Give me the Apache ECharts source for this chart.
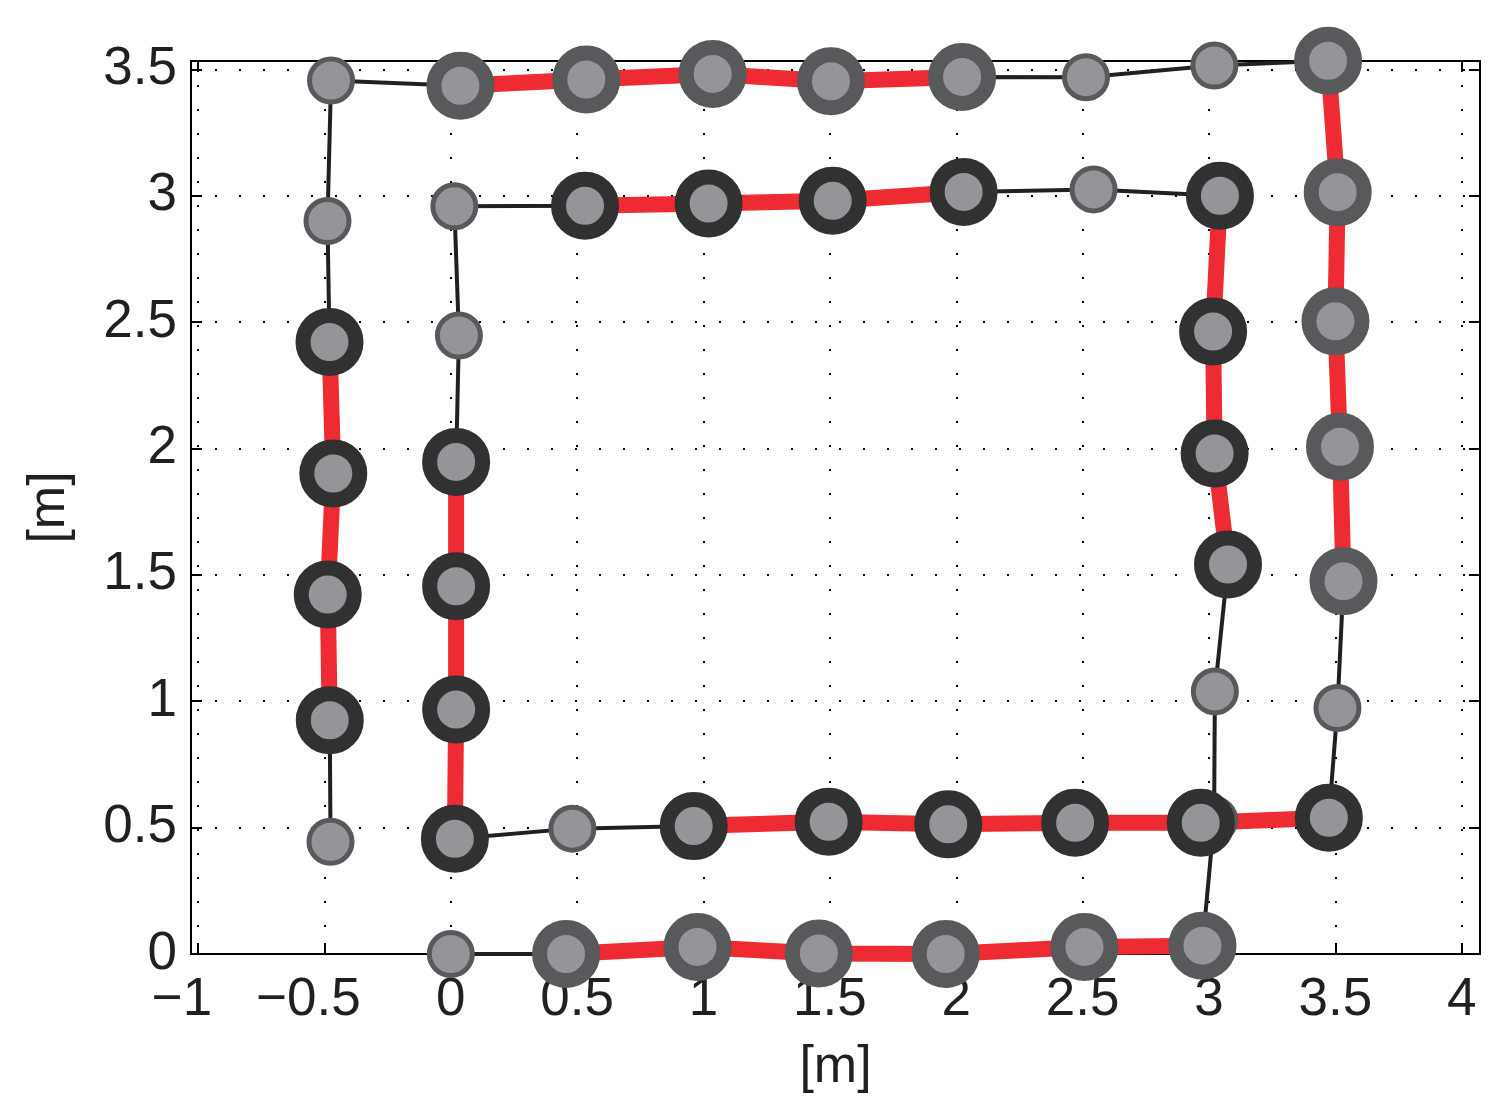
<!DOCTYPE html>
<html>
<head>
<meta charset="utf-8">
<script src="https://cdn.jsdelivr.net/npm/echarts@6/dist/echarts.min.js"></script>
<style>
html,body{margin:0;padding:0;background:#fff;}
#chart{width:1507px;height:1120px;}
</style>
</head>
<body>
<div id="chart"></div>
<script>
// ---- data ----
// trajectory points in visiting order [x, y] (m)
const pathPoints = [
  [0.000, 0.000], [0.456, 0.000], [0.976, 0.028], [1.456, 0.002], [1.958, 0.000], [2.507, 0.028], [2.974, 0.033],
  [3.020, 0.530], [3.023, 1.039],
  [3.075, 1.541], [3.022, 1.980], [3.016, 2.463], [3.043, 3.000],
  [2.543, 3.025],
  [2.029, 3.015], [1.511, 2.980], [1.020, 2.969], [0.531, 2.960],
  [0.014, 2.958], [0.032, 2.447],
  [0.021, 1.947], [0.021, 1.455], [0.021, 0.967], [0.016, 0.456],
  [0.481, 0.496],
  [0.961, 0.506], [1.495, 0.523], [1.968, 0.513], [2.470, 0.519], [2.967, 0.519], [3.474, 0.539],
  [3.508, 0.973],
  [3.532, 1.475], [3.518, 2.007], [3.500, 2.503], [3.509, 3.014], [3.471, 3.534],
  [3.021, 3.515], [2.513, 3.469],
  [2.023, 3.470], [1.504, 3.453], [1.036, 3.482], [0.536, 3.460], [0.038, 3.435],
  [-0.474, 3.456], [-0.488, 2.900],
  [-0.480, 2.421], [-0.465, 1.901], [-0.487, 1.422], [-0.479, 0.925],
  [-0.476, 0.444]
];
// marker kind per point: s = small, g = large grey ring, d = large dark ring
const pointKinds = [
  's','g','g','g','g','g','g',
  's','s',
  'd','d','d','d',
  's',
  'd','d','d','d',
  's','s',
  'd','d','d','d',
  's',
  'd','d','d','d','d','d',
  's',
  'g','g','g','g','g',
  's','s',
  'g','g','g','g','g',
  's','s',
  'd','d','d','d',
  's'
];
// straight segments highlighted in red: [first index, last index] into pathPoints
const redSegments = [[1,6],[9,12],[14,17],[20,23],[25,30],[32,36],[39,43],[46,49]];
const xTicks = [-1, -0.5, 0, 0.5, 1, 1.5, 2, 2.5, 3, 3.5, 4];
const yTicks = [0, 0.5, 1, 1.5, 2, 2.5, 3, 3.5];
const xRange = [-1.028, 4.072];
const yRange = [0, 3.533];

// ---- chart ----
const FONT = '"Liberation Sans", Arial, Helvetica, sans-serif';
const INK = '#231f20';
const LIGHT = '#939598';
const GREY = '#58595b';
const DARK = '#323132';
const RED = '#ee2a33';
const FS = 53;

const fmtY = v => String(v);
const fmtX = v => v < 0 ? '{neg|' + String(v).replace('-', '\u2212') + '}' : String(v);

function mainAxis(pos, ticks, range, name, nameGap, labelMargin, fmt) {
  return {
    type: 'value', position: pos, min: range[0], max: range[1],
    name: name, nameLocation: 'middle', nameGap: nameGap,
    nameTextStyle: { fontSize: 52, fontFamily: FONT, color: INK },
    axisLine: { show: true, onZero: false, lineStyle: { color: '#000', width: 2 } },
    axisTick: { show: true, inside: true, length: 11, customValues: ticks, lineStyle: { color: '#000', width: 2 } },
    axisLabel: {
      show: true, customValues: ticks, formatter: fmt, fontSize: FS, fontFamily: FONT, color: INK, margin: labelMargin,
      rich: { neg: { fontSize: FS, fontFamily: FONT, color: INK, padding: [0, 32, 0, 0] } }
    },
    splitLine: { show: true, lineStyle: { color: '#000', width: 2, type: [2, 22] } }
  };
}
function frameAxis(pos, ticks, range) {
  return {
    type: 'value', position: pos, min: range[0], max: range[1],
    axisLine: { show: true, onZero: false, lineStyle: { color: '#000', width: 2 } },
    axisTick: { show: true, inside: true, length: 11, customValues: ticks, lineStyle: { color: '#000', width: 2 } },
    axisLabel: { show: false, customValues: ticks },
    splitLine: { show: false }
  };
}

const series = [];
series.push({
  type: 'line', xAxisIndex: 0, yAxisIndex: 0, data: pathPoints, symbol: 'none', clip: false, silent: true,
  lineStyle: { color: INK, width: 4 }, z: 2
});
redSegments.forEach(seg => {
  series.push({
    type: 'line', xAxisIndex: 0, yAxisIndex: 0, data: pathPoints.slice(seg[0], seg[1] + 1),
    symbol: 'none', clip: false, silent: true, lineStyle: { color: RED, width: 16 }, z: 3
  });
});
const kindStyle = {
  s: { size: 43, border: 5, ring: GREY },
  g: { size: 53, border: 15, ring: GREY },
  d: { size: 53, border: 15, ring: DARK }
};
['s', 'g', 'd'].forEach(k => {
  const st = kindStyle[k];
  series.push({
    type: 'scatter', xAxisIndex: 0, yAxisIndex: 0, clip: false, silent: true,
    data: pathPoints.filter((p, i) => pointKinds[i] === k),
    symbol: 'circle', symbolSize: st.size,
    itemStyle: { color: LIGHT, borderColor: st.ring, borderWidth: st.border, opacity: 1 },
    z: k === 's' ? 4 : 5
  });
});

const chart = echarts.init(document.getElementById('chart'), null, { renderer: 'canvas' });
chart.setOption({
  animation: false,
  backgroundColor: '#fff',
  grid: { left: 191, top: 61, width: 1289, height: 893, containLabel: false },
  xAxis: [
    mainAxis('bottom', xTicks, xRange, '[m]', 88, 20, fmtX),
    frameAxis('top', xTicks, xRange)
  ],
  yAxis: [
    mainAxis('left', yTicks, yRange, '[m]', 115, 14, fmtY),
    frameAxis('right', yTicks, yRange)
  ],
  series: series
});
</script>
</body>
</html>
